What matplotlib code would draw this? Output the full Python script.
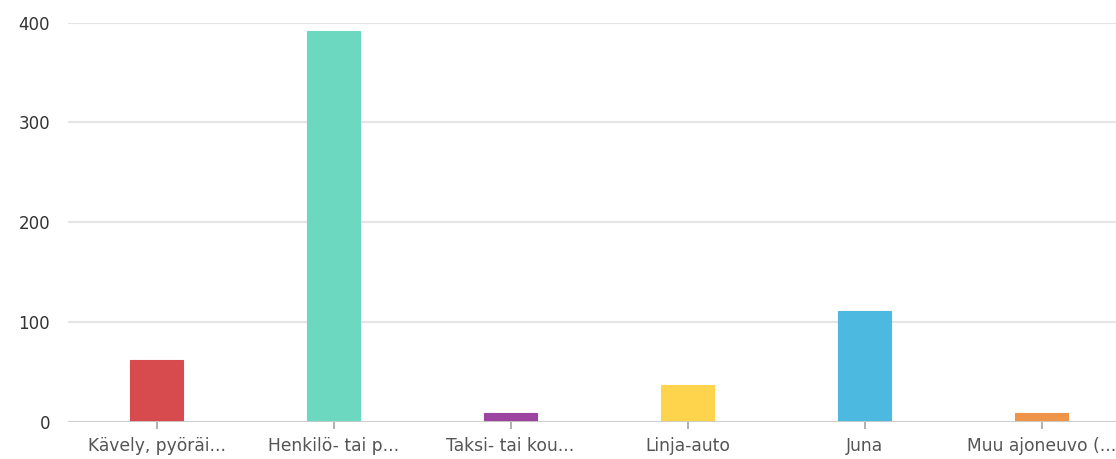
import matplotlib
matplotlib.use('Agg')
import matplotlib.pyplot as plt
import numpy as np

# category labels as shown (truncated like the original)
categories = ['Kävely, pyöräi...', 'Henkilö- tai p...', 'Taksi- tai kou...',
              'Linja-auto', 'Juna', 'Muu ajoneuvo (...']
counts = [62, 391, 9, 37, 111, 9]
bar_colours = ['#d74b4e', '#6dd8c0', '#9b45a0', '#fed44c', '#4cb9e0', '#ef9549']
yticks = [0, 100, 200, 300, 400]

plt.rcParams['font.family'] = ['DejaVu Sans']

fig = plt.figure(figsize=(11.16, 4.59), dpi=100)
# right edge sits a little past the figure, the original is cropped there
ax = fig.add_axes([68/1116., 37.3/459., 1062/1116., 399.2/459.])

x = np.arange(len(categories))
ax.bar(x, counts, width=0.3, color=bar_colours, edgecolor=bar_colours,
       linewidth=0.8, zorder=3)

ax.set_xlim(-0.5, len(categories) - 0.5)
ax.set_ylim(0, 400)
ax.set_yticks(yticks)
ax.set_xticks(x)
ax.set_xticklabels(categories, fontsize=12.3, color='#555555')
ax.tick_params(axis='y', length=0, pad=13, labelsize=12, labelcolor='#333333')
ax.tick_params(axis='x', length=5, width=1.3, color='#aaaaaa', pad=6)

ax.grid(axis='y', color='#e4e4e4', linewidth=1.5, zorder=0)
ax.axhline(0, color='#cccccc', linewidth=2, zorder=4)
for s in ax.spines.values():
    s.set_visible(False)

plt.savefig('out.png', dpi=100)
